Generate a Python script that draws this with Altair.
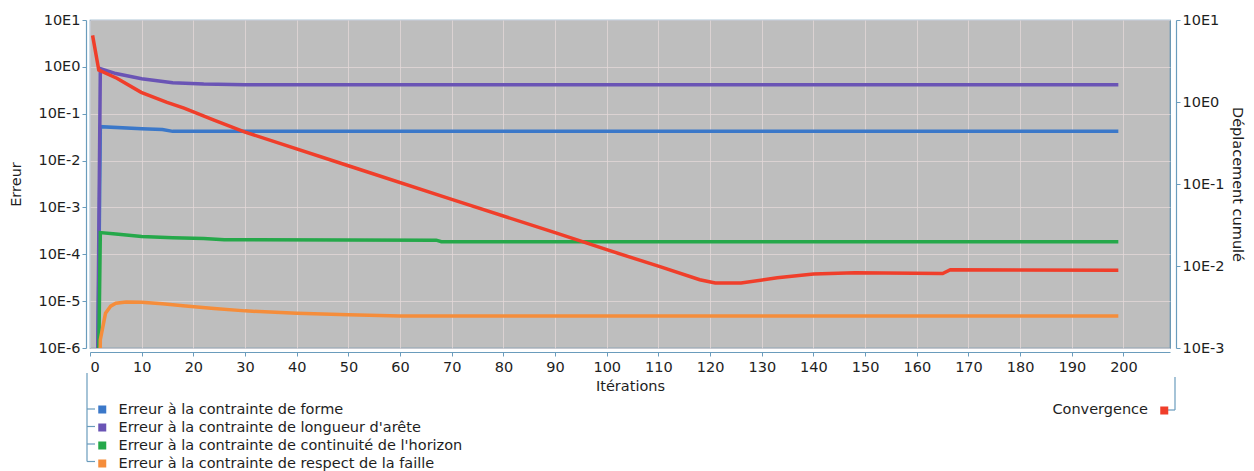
import altair as alt
import pandas as pd

# ---- data ----
names = [
    "Erreur à la contrainte de forme",
    "Erreur à la contrainte de longueur d'arête",
    "Erreur à la contrainte de continuité de l'horizon",
    "Erreur à la contrainte de respect de la faille",
]
colors = ["#3b78c9", "#6a54b5", "#25a84a", "#f58d3b"]

forme_it = [1, 2, 10, 14, 16, 199]
forme_val = [1e-12, 0.053, 0.048, 0.046, 0.042, 0.042]

arete_it = [1, 2, 5, 10, 16, 22, 30, 199]
arete_val = [1e-12, 0.92, 0.72, 0.56, 0.46, 0.43, 0.415, 0.415]

horizon_it = [1, 2, 5, 10, 16, 22, 26, 67, 68, 199]
horizon_val = [1e-12, 2.9e-4, 2.7e-4, 2.4e-4, 2.25e-4, 2.18e-4, 2.05e-4, 2.0e-4, 1.85e-4, 1.85e-4]

faille_it = [1, 2, 3, 4, 5, 7, 10, 14, 18, 24, 30, 40, 50, 60, 199]
faille_val = [1e-12, 1.5e-6, 5.5e-6, 7.8e-6, 9e-6, 9.6e-6, 9.5e-6, 8.8e-6, 8e-6, 7e-6,
              6.2e-6, 5.5e-6, 5.1e-6, 4.8e-6, 4.8e-6]

conv_name = "Convergence"
conv_color = "#f03e2a"
conv_it = [0.5, 1.7, 5.2, 9.9, 14.9, 18.2, 24, 30, 50, 70, 90, 100, 110, 118, 121, 126,
           133, 140, 148, 165, 166.5, 199]
conv_val = [6.5, 2.45, 1.95, 1.31, 0.99, 0.84, 0.60, 0.43, 0.167, 0.065, 0.0255, 0.0158,
            0.00995, 0.0068, 0.0062, 0.0062, 0.0072, 0.0080, 0.0083, 0.0081, 0.0090, 0.0089]

x_ticks = list(range(0, 201, 10))
left_ticks = [1e-6, 1e-5, 1e-4, 1e-3, 1e-2, 1e-1, 1, 10]
right_ticks = [1e-3, 1e-2, 1e-1, 1, 10]

# ---- tables ----
rows = []
for n, its, vals in zip(names, [forme_it, arete_it, horizon_it, faille_it],
                        [forme_val, arete_val, horizon_val, faille_val]):
    for i, v in zip(its, vals):
        rows.append({"serie": n, "it": i, "val": v})
err_df = pd.DataFrame(rows)
conv_df = pd.DataFrame({"serie": conv_name, "it": conv_it, "val": conv_val})

FONT = "DejaVu Sans"
AX = "#6a9cbc"
TXT = "#1e1e1e"
LBL = "'10E' + round(log(datum.value) / LN10)"

x_enc = alt.X(
    "it:Q",
    scale=alt.Scale(domain=[0, 209], nice=False, zero=False),
    axis=alt.Axis(values=x_ticks, title="Itérations", offset=4, format="d",
                  labelPadding=4, titlePadding=6),
)

legend_common = dict(title=None, orient="none", symbolType="square", symbolSize=16,
                     symbolStrokeWidth=4, symbolOpacity=1, labelFontSize=14.5,
                     labelFont=FONT, labelColor=TXT, clipHeight=15)

errors = alt.Chart(err_df).mark_line(strokeWidth=3.5, clip=True).encode(
    x=x_enc,
    y=alt.Y(
        "val:Q",
        scale=alt.Scale(type="log", domain=[1e-6, 10], nice=False),
        axis=alt.Axis(values=left_ticks, labelExpr=LBL, title="Erreur", offset=4,
                      orient="left", titlePadding=14),
    ),
    color=alt.Color(
        "serie:N",
        scale=alt.Scale(domain=names, range=colors),
        legend=alt.Legend(legendX=5, legendY=382, rowPadding=2, labelOffset=9,
                          labelLimit=600, **legend_common),
    ),
)

conv = alt.Chart(conv_df).mark_line(strokeWidth=3.5, clip=True).encode(
    x=alt.X("it:Q"),
    y=alt.Y(
        "val:Q",
        scale=alt.Scale(type="log", domain=[1e-3, 10], nice=False),
        axis=alt.Axis(values=right_ticks, labelExpr=LBL, title="Déplacement cumulé",
                      orient="right", offset=6, grid=False, titlePadding=5),
    ),
    color=alt.Color(
        "serie:N",
        scale=alt.Scale(domain=[conv_name], range=[conv_color]),
        legend=alt.Legend(legendX=1067, legendY=383, labelExpr="''", **legend_common),
    ),
)

# label of the Convergence legend entry, placed left of its symbol
conv_label = alt.Chart(pd.DataFrame({"t": [conv_name]})).mark_text(
    align="right", baseline="middle", font=FONT, fontSize=14.5, color=TXT
).encode(text="t:N", x=alt.value(1058), y=alt.value(390))

# decorative legend connectors (pixel positions, styling only)
one = pd.DataFrame({"k": [0]})
conn_style = dict(color=AX, strokeWidth=1.2)
rule_specs = [
    (-3, -3, 353, 441.5),
    (-3, 5, 389, 389), (-3, 5, 406.5, 406.5), (-3, 5, 424, 424), (-3, 5, 441.5, 441.5),
    (1075, 1085, 390, 390), (1085, 1085, 357, 390),
]
rules = [
    alt.Chart(one).mark_rule(**conn_style).encode(
        x=alt.value(a), x2=alt.value(b), y=alt.value(c), y2=alt.value(d))
    for a, b, c, d in rule_specs
]

chart = alt.layer(errors, conv, conv_label, *rules).resolve_scale(
    y="independent", color="independent"
).properties(
    width=1080, height=328,
    padding={"left": 82, "top": 12, "right": 76, "bottom": 123},
    autosize=alt.AutoSizeParams(type="none"),
).configure_view(
    fill="#bebebe", stroke="#5f8fae", strokeWidth=1.2
).configure_axis(
    labelFont=FONT, titleFont=FONT, labelFontSize=14.5, titleFontSize=14.5,
    labelColor=TXT, titleColor=TXT, titleFontWeight="normal",
    domainColor=AX, tickColor=AX, tickSize=4, domainWidth=1.2,
    gridColor="#e4d8d8", gridOpacity=0.75, gridWidth=1,
).configure_legend(
    labelFont=FONT
)

chart.save("out.html", embed_options={"renderer": "svg", "actions": False})
